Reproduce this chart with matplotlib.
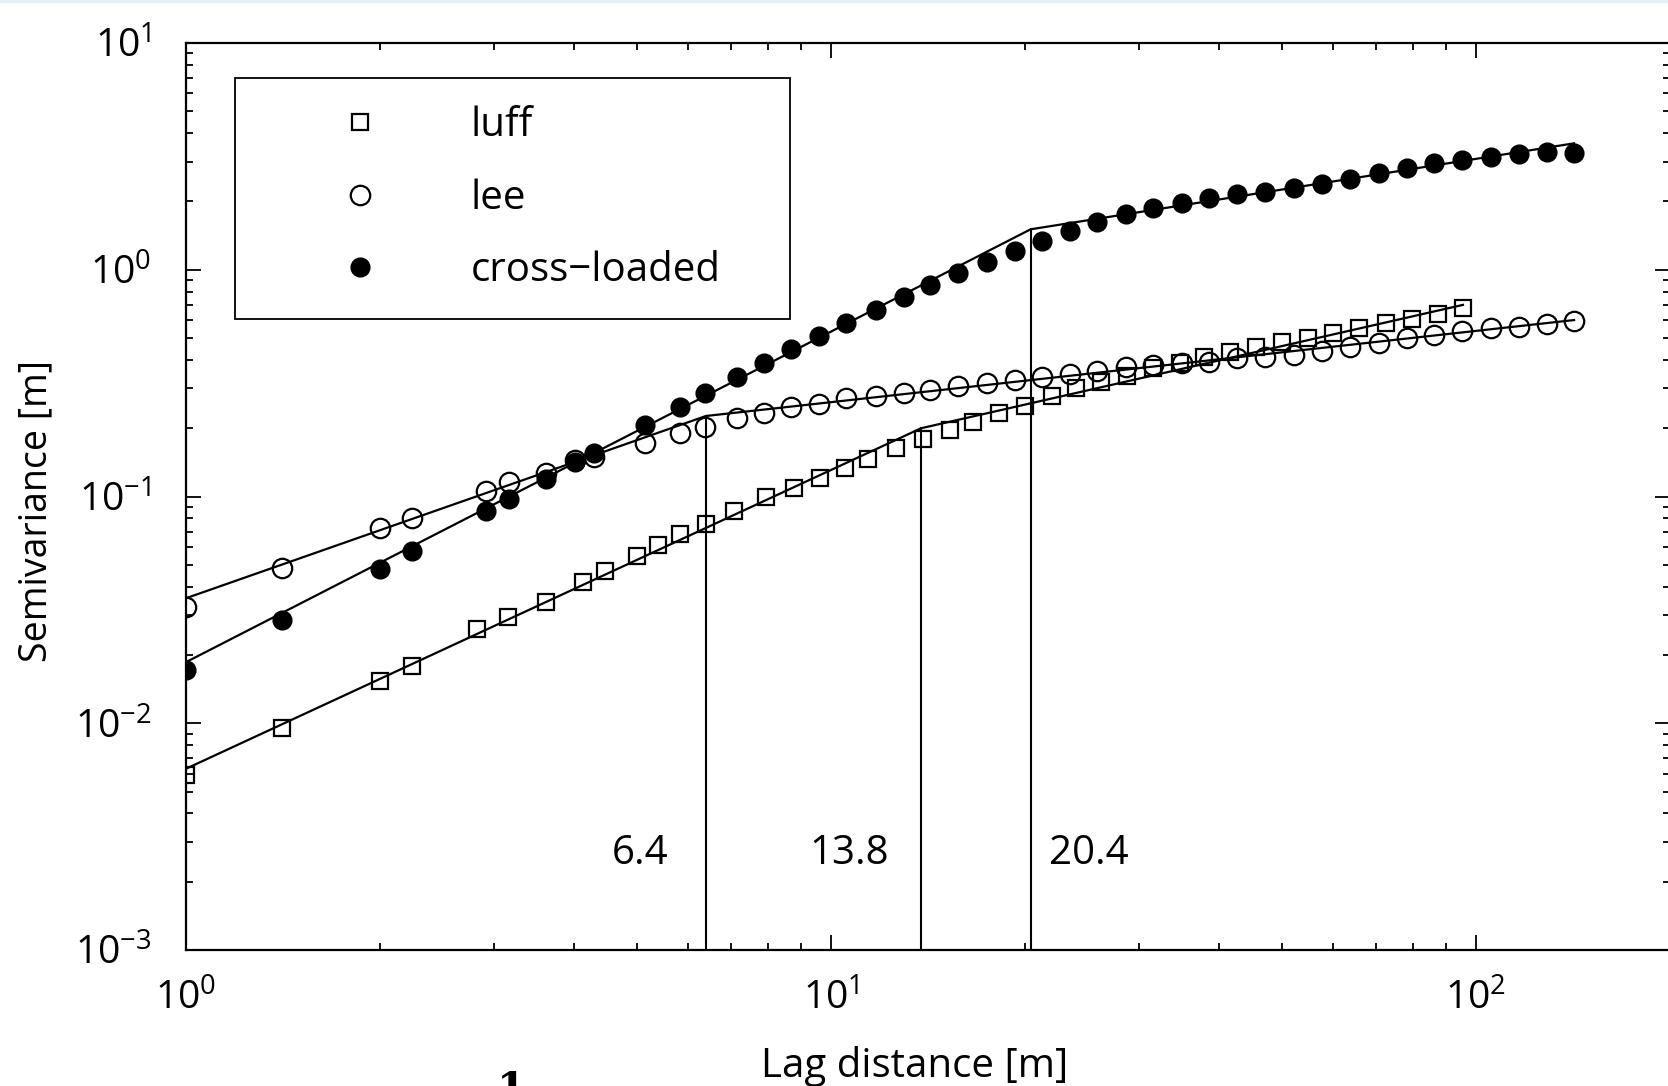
import matplotlib
matplotlib.use('Agg')
import matplotlib.pyplot as plt
from matplotlib.lines import Line2D
from matplotlib.ticker import NullFormatter

plt.rcParams['font.family'] = ['Open Sans', 'DejaVu Sans']

# luff (open squares)
lag_luff = [1.0, 1.41, 2.0, 2.24, 2.83, 3.16, 3.61, 4.12, 4.47, 5.0,
            5.39, 5.83, 6.40, 7.07, 7.92, 8.76, 9.61, 10.5, 11.4, 12.6,
            13.9, 15.3, 16.6, 18.2, 20.0, 22.0, 24.0, 26.2, 28.8, 31.6,
            34.8, 37.9, 41.5, 45.6, 50.1, 55.0, 60.0, 66.0, 72.5, 79.6,
            87.4, 95.5]
semi_luff = [0.00592, 0.00951, 0.01538, 0.0179, 0.0261, 0.0294, 0.0344, 0.0418, 0.0467, 0.0546,
             0.0608, 0.0682, 0.0757, 0.0859, 0.0998, 0.1087, 0.1203, 0.1331, 0.1463, 0.1632,
             0.1793, 0.1965, 0.2137, 0.2342, 0.2506, 0.2775, 0.300, 0.3209, 0.340, 0.3674,
             0.3868, 0.4137, 0.435, 0.4577, 0.4819, 0.5017, 0.5278, 0.5515, 0.5802, 0.6044,
             0.6379, 0.6757]

# lee and cross-loaded share the lag bins
lag_lee = [1.0, 1.41, 2.0, 2.24, 2.92, 3.17, 3.61, 4.01, 4.29, 5.15,
           5.83, 6.37, 7.15, 7.87, 8.66, 9.57, 10.57, 11.74, 12.99, 14.23,
           15.75, 17.46, 19.28, 21.26, 23.45, 25.9, 28.7, 31.6, 35.0, 38.6,
           42.6, 47.1, 52.2, 57.7, 63.9, 70.8, 78.1, 86.2, 95.1, 105.4,
           116.7, 129.0, 142.0]
semi_lee = [0.0327, 0.0483, 0.0725, 0.0802, 0.1059, 0.1156, 0.1267, 0.1451, 0.1501, 0.173,
            0.1903, 0.2022, 0.2226, 0.2326, 0.2473, 0.255, 0.2727, 0.2775, 0.2851, 0.2949,
            0.3071, 0.3156, 0.3264, 0.3376, 0.3459, 0.3588, 0.3713, 0.3801, 0.3891, 0.393,
            0.4068, 0.411, 0.4207, 0.4383, 0.4548, 0.4771, 0.4984, 0.5156, 0.537, 0.5515,
            0.561, 0.5765, 0.5943]
semi_cross = [0.01718, 0.02857, 0.04799, 0.05754, 0.0859, 0.0973, 0.1193, 0.1413, 0.1553, 0.2071,
              0.2489, 0.285, 0.3355, 0.3867, 0.4457, 0.510, 0.580, 0.664, 0.760, 0.856,
              0.970, 1.085, 1.21, 1.343, 1.48, 1.63, 1.756, 1.878, 1.975, 2.066,
              2.159, 2.210, 2.287, 2.382, 2.506, 2.663, 2.820, 2.948, 3.048, 3.152,
              3.228, 3.316, 3.262]

# piecewise power-law fits (start, breakpoint, end)
fit_x_luff = [1.0, 13.8, 95.5]
fit_y_luff = [0.0063, 0.20, 0.70]
fit_x_lee = [1.0, 6.4, 142.0]
fit_y_lee = [0.0356, 0.2265, 0.60]
fit_x_cross = [1.0, 20.4, 142.0]
fit_y_cross = [0.0186, 1.508, 3.61]

fs = 29
fig = plt.figure(figsize=(16.68, 10.86), dpi=100)
ax = fig.add_axes([186/1668, 136/1086, 1484/1668, 907/1086])

for fx, fy in [(fit_x_luff, fit_y_luff), (fit_x_lee, fit_y_lee), (fit_x_cross, fit_y_cross)]:
    ax.plot(fx, fy, color='k', lw=1.6)
    # vertical marker at the break
    ax.plot([fx[1], fx[1]], [1e-3, fy[1]], color='k', lw=1.5)

ax.plot(lag_luff, semi_luff, 's', ms=11, mfc='none', mec='k', mew=1.6, label='luff')
ax.plot(lag_lee, semi_lee, 'o', ms=14, mfc='none', mec='k', mew=1.6, label='lee')
ax.plot(lag_lee, semi_cross, 'o', ms=13.5, mfc='k', mec='k', mew=1.0, label='cross\u2212loaded')

ax.text(5.59, 2.65e-3, '%.1f' % fit_x_lee[1], ha='right', va='center', fontsize=fs)
ax.text(12.3, 2.65e-3, '%.1f' % fit_x_luff[1], ha='right', va='center', fontsize=fs)
ax.text(21.8, 2.65e-3, '%.1f' % fit_x_cross[1], ha='left', va='center', fontsize=fs)

ax.set_xscale('log')
ax.set_yscale('log')
ax.set_xlim(1, 200)
ax.set_ylim(1e-3, 10)
ax.xaxis.set_minor_formatter(NullFormatter())
ax.yaxis.set_minor_formatter(NullFormatter())

ax.tick_params(which='both', direction='in', top=True, right=True, labelsize=28, width=1.3)
ax.tick_params(which='major', length=11)
ax.tick_params(which='minor', length=5)
ax.tick_params(axis='x', pad=21)
ax.tick_params(axis='y', pad=25)
for s in ax.spines.values():
    s.set_linewidth(1.6)

ax.set_xlabel('Lag distance [m]', fontsize=fs)
ax.set_ylabel('Semivariance [m]', fontsize=27)
ax.xaxis.set_label_coords(0.491, -0.106)
ax.yaxis.set_label_coords(-0.088, 0.484)

leg = ax.legend(loc='upper left', bbox_to_anchor=(0.033, 0.0, 0.374, 0.9614), mode='expand',
                borderaxespad=0, fancybox=False, edgecolor='k', framealpha=1, fontsize=fs,
                handlelength=4.84, handletextpad=0.33, borderpad=0.68, labelspacing=0.8)
leg.get_frame().set_linewidth(1.3)

# screenshot edges
fig.add_artist(Line2D([0, 1], [0.999, 0.999], transform=fig.transFigure, color='#e3f0fa', lw=3))
fig.text(511/1668, 0.015, '1', fontsize=30, fontweight='bold', family='DejaVu Serif', va='top', ha='center')

fig.savefig('out.png', dpi=100)
